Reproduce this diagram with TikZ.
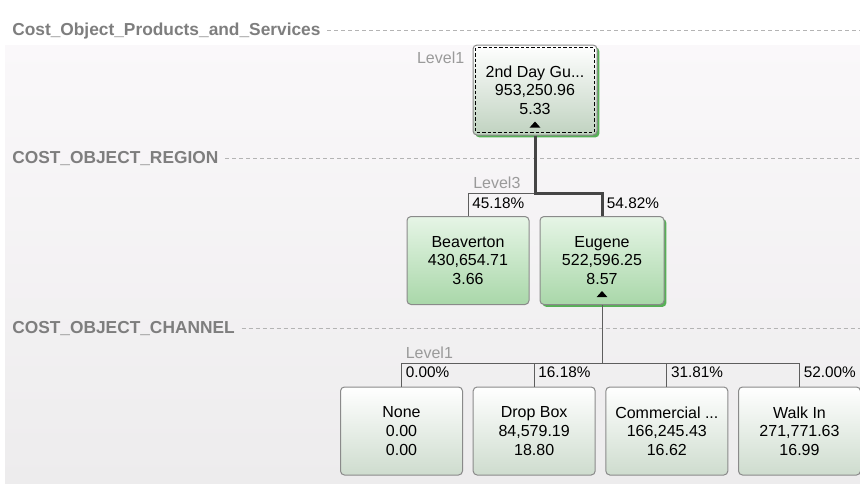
\documentclass[tikz,border=0pt]{standalone}
\usepackage{fontspec}
\setmainfont{Liberation Sans}
\usepackage{tikz}
\usetikzlibrary{positioning,shadows}

\definecolor{bgtop}{HTML}{FAF8FA}
\definecolor{bgbot}{HTML}{EDECED}
\definecolor{hdrgray}{HTML}{7E7E7E}
\definecolor{lanegray}{HTML}{B4B4B4}
\definecolor{lvlgray}{HTML}{9A9A9A}
\definecolor{cellrim}{HTML}{8A8A8A}
\definecolor{leafbot}{HTML}{CEDCCE}
\definecolor{rootbot}{HTML}{C0D2C0}
\definecolor{greentop}{HTML}{E6F5E6}
\definecolor{greenbot}{HTML}{A9D7A9}
\definecolor{pickgreen}{HTML}{57B057}
\definecolor{trunkgray}{HTML}{454545}
\definecolor{branchgray}{HTML}{5E5E5E}

\begin{document}
\begin{tikzpicture}[x=0.75pt,y=-0.75pt,
        cell/.style={draw=cellrim,line width=0.75pt,rounded corners=3pt,
            inner sep=0pt,minimum width=91.5pt,minimum height=66pt,align=center,
            font=\fontsize{12}{14}\selectfont,top color=white,bottom color=leafbot},
        rootcell/.style={cell,minimum width=93pt,minimum height=67.5pt,bottom color=rootbot},
        greencell/.style={cell,top color=greentop,bottom color=greenbot},
        picked/.style={general shadow={fill=pickgreen,shadow xshift=1.8pt,shadow yshift=-1.8pt}},
        hdr/.style={font=\fontsize{13}{15}\selectfont\bfseries,text=hdrgray,inner sep=0pt},
        lane/.style={draw=lanegray,line width=0.75pt,dash pattern=on 3pt off 2.25pt},
        lvl/.style={font=\fontsize{12}{14}\selectfont,text=lvlgray,inner sep=0pt},
        pct/.style={font=\fontsize{11.5}{13}\selectfont,inner sep=0pt,anchor=north west},
        trunk/.style={draw=trunkgray,line width=2.25pt},
        branch/.style={draw=branchgray,line width=0.75pt}]
    \useasboundingbox (0,0) rectangle (860,483);
    % backdrop
    \fill[white] (0,0) rectangle (860,483);
    \fill[top color=bgtop,bottom color=bgbot] (5,45) rectangle (860,483);

    % dimension rows
    \node[hdr,anchor=base west] (prodhdr) at (12,35) {Cost\_Object\_Products\_and\_Services};
    \node[hdr,anchor=base west] (reghdr) at (12,163) {COST\_OBJECT\_REGION};
    \node[hdr,anchor=base west] (chanhdr) at (12,333) {COST\_OBJECT\_CHANNEL};
    \coordinate (rim) at (860,0);
    \foreach \h in {prodhdr,reghdr,chanhdr}
        \draw[lane] ([xshift=5pt]\h.east) -- (\h.east -| rim);

    % tree cells
    \node[rootcell,picked] (root) at (535,90) {2nd Day Gu...\\953,250.96\\5.33};
    \node[greencell] (beav) at (468,260.5) {Beaverton\\430,654.71\\3.66};
    \node[greencell,picked,minimum width=93pt,right=7.5pt of beav] (eug) {Eugene\\522,596.25\\8.57};
    \node[cell] (none) at (401.5,431) {None\\0.00\\0.00};
    \node[cell,right=7.25pt of none] (drop) {Drop Box\\84,579.19\\18.80};
    \node[cell,right=7.25pt of drop] (comm) {Commercial ...\\166,245.43\\16.62};
    \node[cell,right=7.25pt of comm] (walk) {Walk In\\271,771.63\\16.99};

    % selection frame and expand marks
    \draw[line width=0.9pt,dash pattern=on 2.5pt off 1.5pt]
        ([shift={(2.5pt,-2.5pt)}]root.north west) rectangle ([shift={(-2.5pt,2.5pt)}]root.south east);
    \foreach \n in {root,eug}
        \fill ([yshift=6pt]\n.south) ++(-4pt,0) -- ++(8pt,0) -- ++(-4pt,4.5pt) -- cycle;

    % region level
    \coordinate (rj) at (root.south |- 0,193);
    \draw[branch] (rj) -| (beav.north);
    \draw[trunk] (root.south) -- (rj) -| (eug.north);
    \path (beav.north |- rj) ++(3pt,-3.5pt) node[pct] (pbeav) {45.18\%};
    \path (eug.north |- rj) ++(3.5pt,-3.5pt) node[pct] (peug) {54.82\%};

    % channel level
    \coordinate (cj) at (eug.south |- 0,363);
    \draw[branch] (eug.south) -- (cj);
    \draw[branch] (none.north |- cj) -- (walk.north |- cj);
    \foreach \n/\p in {none/0.00,drop/16.18,comm/31.81,walk/52.00} {
        \draw[branch] (\n.north |- cj) -- (\n.north);
        \path (\n.north |- cj) ++(3pt,-3pt) node[pct] (p\n) {\p\%};
    }

    % level captions
    \node[lvl,anchor=north east] (lvlroot) at ([shift={(-6pt,-5pt)}]root.north west) {Level1};
    \path (beav.north |- rj) ++(3.75pt,3.75pt) node[lvl,anchor=base west] (lvlreg) {Level3};
    \path (none.north |- cj) ++(3pt,3.75pt) node[lvl,anchor=base west] (lvlchan) {Level1};
\end{tikzpicture}
\end{document}
